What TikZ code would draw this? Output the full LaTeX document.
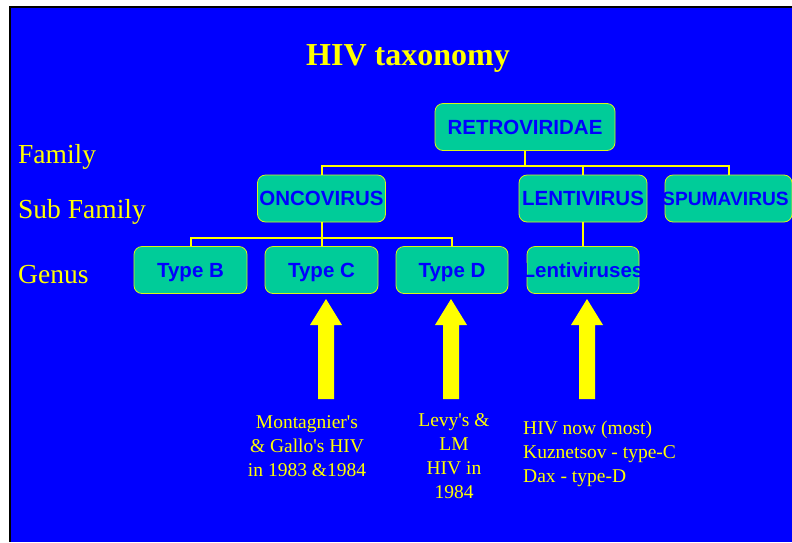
\documentclass[tikz,border=0pt]{standalone}
\usepackage{fontspec}
\setmainfont{Liberation Serif}
\setsansfont{Liberation Sans}
\definecolor{slideblue}{HTML}{0000FF}
\definecolor{boxgreen}{HTML}{00CC99}
\definecolor{lineyellow}{HTML}{FFFF00}
\tikzset{
  taxbox/.style={draw=lineyellow!85!boxgreen, line width=0.8pt, fill=boxgreen,
    rounded corners=8pt, inner sep=0pt, minimum height=47pt,
    text height=14.7pt, text depth=0pt, text=slideblue,
    font=\sffamily\bfseries\fontsize{20.5}{24}\selectfont},
  link/.style={draw=lineyellow, line width=2pt},
  rowlabel/.style={anchor=base west, text=lineyellow, inner sep=0pt,
    font=\fontsize{27.5}{30}\selectfont},
  caption/.style={text=lineyellow, inner sep=0pt, anchor=north,
    font=\fontsize{19.5}{24}\selectfont},
}

\begin{document}
\begin{tikzpicture}[x=1pt,y=-1pt]
    \useasboundingbox (0,0) rectangle (792,542);
    \clip (0,0) rectangle (792,542);
    \fill[black] (9,5.5) rectangle (792,542);
    \fill[slideblue] (11,8) rectangle (792,542);

    \node[anchor=base, inner sep=0pt, text=lineyellow, font=\bfseries\fontsize{32}{36}\selectfont] (title) at (408,65) {HIV taxonomy};

    \node[rowlabel] (family) at (18,163) {Family};
    \node[rowlabel] (subfamily) at (18,218) {Sub Family};
    \node[rowlabel] (genus) at (18,283) {Genus};

    \node[taxbox, minimum width=180pt] (retro) at (525,127) {RETROVIRIDAE};
    \node[taxbox, minimum width=128pt] (onco) at (321.5,198.5) {ONCOVIRUS};
    \node[taxbox, minimum width=128pt] (lenti) at (583,198.5) {LENTIVIRUS};
    \node[taxbox, minimum width=127pt] (spuma) at (728.5,198.5) {\makebox[0pt]{\fontsize{19.2}{24}\selectfont\hspace*{-6pt}SPUMAVIRUS}};
    \node[taxbox, minimum width=113pt] (typeb) at (190.5,270) {Type B};
    \node[taxbox, minimum width=113pt] (typec) at (321.5,270) {Type C};
    \node[taxbox, minimum width=112pt] (typed) at (452,270) {Type D};
    \node[taxbox, minimum width=112pt] (lentis) at (583,270) {\makebox[0pt]{Lentiviruses}};

    \draw[link] (retro.south) -- ++(0,15) -| (onco.north);
    \draw[link] (retro.south) -- ++(0,15) -| (lenti.north);
    \draw[link] (retro.south) -- ++(0,15) -| (spuma.north);
    \draw[link] (onco.south) -- ++(0,16) -| (typeb.north);
    \draw[link] (onco.south) -- (typec.north);
    \draw[link] (onco.south) -- ++(0,16) -| (typed.north);
    \draw[link] (lenti.south) -- (lentis.north);

    \foreach \ax in {326,451,587} {
        \fill[lineyellow] (\ax-8,399) -- (\ax-8,325) -- (\ax-16,325) -- (\ax,299)
            -- (\ax+16,325) -- (\ax+8,325) -- (\ax+8,399) -- cycle;
    }

    \node[caption, align=center] (montag) at (307,415) {Montagnier\textquotesingle s\\\& Gallo\textquotesingle s HIV\\in 1983 \&1984};
    \node[caption, align=center] (levy) at (454,413) {Levy\textquotesingle s \&\\LM\\HIV in\\1984};
    \node[caption, align=left, anchor=north west] (hivnow) at (523,420.5) {HIV now (most)\\Kuznetsov - type-C\\Dax - type-D};
\end{tikzpicture}
\end{document}
